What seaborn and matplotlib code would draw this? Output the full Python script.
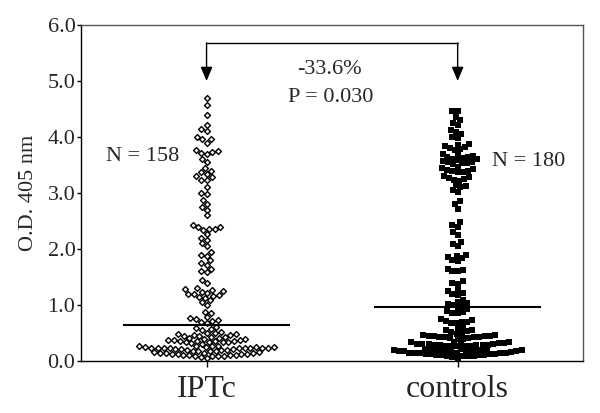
import numpy as np
import pandas as pd
import matplotlib
matplotlib.use("Agg")
import matplotlib.pyplot as plt
import seaborn as sns

# values (O.D. 405 nm)
groups = ["IPTc", "controls"]

iptc_values = [
    4.69, 4.57, 4.40, 4.21, 4.14, 4.10, 4.00, 3.96, 3.96, 3.89,
    3.77, 3.75, 3.74, 3.72, 3.70, 3.60, 3.55, 3.44, 3.40, 3.37,
    3.33, 3.30, 3.28, 3.24, 3.23, 3.11, 3.00, 2.98, 2.88, 2.80,
    2.75, 2.70, 2.60, 2.42, 2.40, 2.39, 2.36, 2.36, 2.34, 2.26,
    2.20, 2.16, 2.10, 2.05, 1.95, 1.90, 1.88, 1.80, 1.75, 1.72,
    1.65, 1.60, 1.58, 1.45, 1.40, 1.30, 1.28, 1.27, 1.25, 1.24,
    1.22, 1.20, 1.20, 1.18, 1.16, 1.15, 1.13, 1.08, 1.05, 1.00,
    0.88, 0.85, 0.78, 0.77, 0.75, 0.73, 0.72, 0.70, 0.68, 0.60,
    0.58, 0.57, 0.55, 0.52, 0.50, 0.50, 0.48, 0.48, 0.47, 0.46,
    0.45, 0.44, 0.43, 0.42, 0.41, 0.41, 0.40, 0.40, 0.38, 0.37,
    0.37, 0.36, 0.36, 0.35, 0.35, 0.34, 0.34, 0.33, 0.33, 0.32,
    0.31, 0.27, 0.26, 0.26, 0.26, 0.25, 0.25, 0.25, 0.25, 0.24,
    0.24, 0.24, 0.24, 0.24, 0.23, 0.23, 0.23, 0.23, 0.22, 0.22,
    0.22, 0.20, 0.19, 0.19, 0.18, 0.18, 0.17, 0.17, 0.16, 0.16,
    0.15, 0.15, 0.14, 0.14, 0.13, 0.13, 0.12, 0.12, 0.11, 0.11,
    0.10, 0.10, 0.09, 0.09, 0.08, 0.08, 0.07, 0.06,
]

controls_values = [
    4.47, 4.46, 4.35, 4.30, 4.25, 4.22, 4.12, 4.08, 4.05, 4.00,
    3.98, 3.88, 3.86, 3.84, 3.82, 3.80, 3.78, 3.76, 3.70, 3.68,
    3.66, 3.65, 3.64, 3.62, 3.61, 3.60, 3.58, 3.57, 3.56, 3.55,
    3.54, 3.53, 3.52, 3.47, 3.45, 3.43, 3.41, 3.40, 3.39, 3.38,
    3.37, 3.30, 3.28, 3.26, 3.25, 3.24, 3.22, 3.15, 3.12, 3.10,
    3.05, 3.02, 2.85, 2.80, 2.72, 2.48, 2.42, 2.40, 2.30, 2.25,
    2.12, 2.08, 2.05, 1.90, 1.88, 1.86, 1.84, 1.80, 1.78, 1.65,
    1.62, 1.60, 1.60, 1.42, 1.40, 1.38, 1.28, 1.25, 1.22, 1.20,
    1.18, 1.08, 1.05, 1.03, 1.02, 1.00, 0.98, 0.95, 0.93, 0.90,
    0.88, 0.86, 0.85, 0.75, 0.73, 0.72, 0.70, 0.69, 0.68, 0.67,
    0.60, 0.58, 0.56, 0.55, 0.53, 0.52, 0.50, 0.49, 0.46, 0.46,
    0.45, 0.45, 0.44, 0.44, 0.43, 0.43, 0.42, 0.42, 0.41, 0.41,
    0.40, 0.40, 0.34, 0.33, 0.33, 0.32, 0.32, 0.31, 0.31, 0.30,
    0.30, 0.30, 0.29, 0.29, 0.28, 0.28, 0.28, 0.27, 0.27, 0.26,
    0.26, 0.26, 0.22, 0.21, 0.21, 0.20, 0.20, 0.20, 0.19, 0.19,
    0.19, 0.18, 0.18, 0.18, 0.17, 0.17, 0.17, 0.16, 0.16, 0.16,
    0.15, 0.15, 0.15, 0.14, 0.14, 0.14, 0.13, 0.13, 0.12, 0.12,
    0.11, 0.11, 0.10, 0.10, 0.09, 0.09, 0.08, 0.08, 0.07, 0.06,
]

medians = [0.64, 0.97]
n_labels = ["N = 158", "N = 180"]
change_label = "-33.6%"
p_label = "P = 0.030"

df = pd.DataFrame({
    "group": ["IPTc"] * len(iptc_values) + ["controls"] * len(controls_values),
    "od": iptc_values + controls_values,
})

sns.set_style("ticks")
plt.rcParams["font.family"] = ["Liberation Serif", "DejaVu Serif"]

fig = plt.figure(figsize=(6, 4.13), dpi=100)
ax = fig.add_axes([0.135, 0.126, 0.837, 0.8135])

sns.swarmplot(data=df[df["group"] == "IPTc"], x="group", y="od", order=groups,
              marker="D", color="#f2f2f2", edgecolor="black", linewidth=1.0,
              size=3.0, ax=ax)
sns.swarmplot(data=df[df["group"] == "controls"], x="group", y="od", order=groups,
              marker="s", color="black", edgecolor="black", linewidth=0,
              size=3.7, ax=ax)

# median lines
for i, m in enumerate(medians):
    ax.hlines(m, i - 0.333, i + 0.333, color="black", lw=1.5, zorder=5)

# comparison bracket
ax.plot([0, 1], [5.67, 5.67], color="black", lw=1)
for i in range(2):
    ax.annotate("", xy=(i, 5.0), xytext=(i, 5.68),
                arrowprops=dict(arrowstyle="-|>,head_length=0.85,head_width=0.36",
                                color="black", lw=1, shrinkA=0, shrinkB=0,
                                mutation_scale=10))
ax.text(0.49, 5.2, change_label, ha="center", va="center", fontsize=16)
ax.text(0.495, 4.71, p_label, ha="center", va="center", fontsize=16)

ax.text(-0.107, 3.66, n_labels[0], ha="right", va="center", fontsize=16)
ax.text(1.135, 3.56, n_labels[1], ha="left", va="center", fontsize=16)

ax.set_xlim(-0.5, 1.5)
ax.set_ylim(0, 6)
ax.set_yticks(np.arange(0, 6.01, 1.0))
ax.set_yticklabels([f"{v:.1f}" for v in np.arange(0, 6.01, 1.0)])
ax.set_xlabel("")
ax.set_ylabel("O.D. 405 nm", fontsize=16, labelpad=7)
ax.tick_params(axis="y", labelsize=16, length=3, width=1, pad=1, color="black")
ax.tick_params(axis="x", labelsize=23, length=4, width=1, pad=6, color="black")

for side in ["left", "bottom"]:
    ax.spines[side].set_color("black")
    ax.spines[side].set_linewidth(1)
for side in ["top", "right"]:
    ax.spines[side].set_visible(True)
    ax.spines[side].set_color("#555555")
    ax.spines[side].set_linewidth(1)

fig.savefig("out.png", dpi=100)
